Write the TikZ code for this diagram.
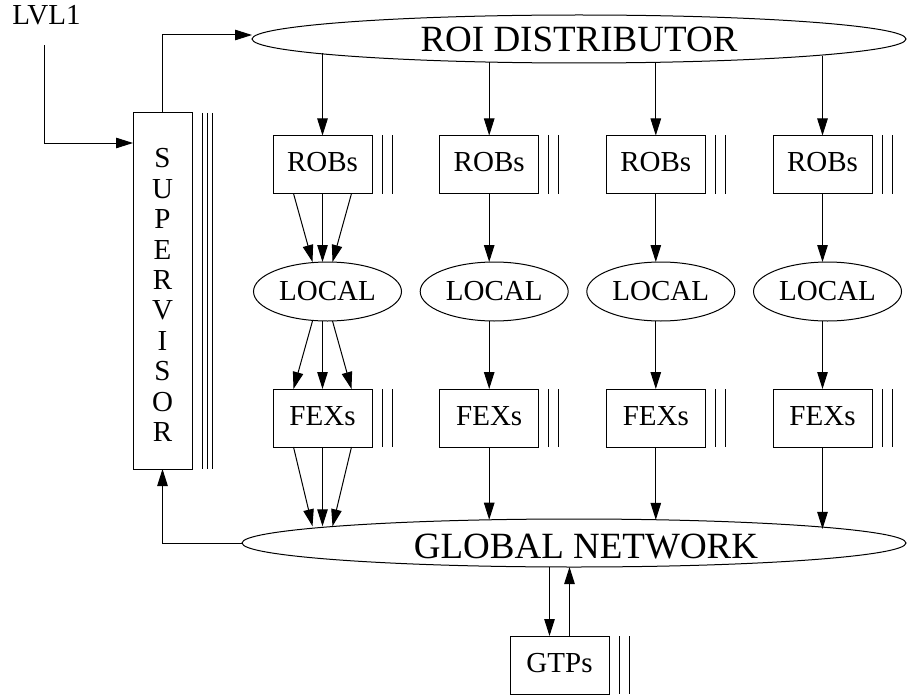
\documentclass[tikz,border=0pt]{standalone}
\usepackage{fontspec}
\setmainfont{Liberation Serif}
\usetikzlibrary{arrows.meta,shapes.geometric}
\begin{document}
\begin{tikzpicture}[x=1pt,y=-1pt,
  every node/.style={inner sep=0pt, outer sep=0pt},
  lbl/.style={font=\fontsize{29}{30.4}\selectfont},
  bigfont/.style={font=\fontsize{37}{40}\selectfont},
  boxunit/.style={draw, line width=1pt, rectangle, minimum width=99pt,
    minimum height=58pt, lbl, text height=19pt, text depth=5pt},
  hubell/.style={draw, line width=1pt, ellipse},
  arrowln/.style={line width=1pt, -{Triangle[length=17pt,width=10.5pt]}},
  barln/.style={line width=1pt},
]
\useasboundingbox (0,0) rectangle (907,698);

% trigger input and supervisor
\node[lbl, anchor=base] (lvl) at (46.5,25) {LVL1};
\node[draw, line width=1pt, minimum width=59pt, minimum height=356pt] (sup) at (162.5,291) {};
\node[lbl, align=center] (suptxt) at (162.5,295) {S\\U\\P\\E\\R\\V\\I\\S\\O\\R};
\foreach \d in {10,15,20}
  \draw[barln] ([xshift=\d pt]sup.north east) -- ([xshift=\d pt]sup.south east);

% distribution and collection networks
\node[hubell, bigfont, minimum width=654pt, minimum height=48pt] (roi) at (579,39) {ROI DISTRIBUTOR};
\node[hubell, minimum width=664pt, minimum height=48pt] (glob) at (574,543) {};
\node[bigfont, anchor=base] (globtxt) at (586,558) {GLOBAL NETWORK};

% processing columns
\foreach \i/\x in {1/322.5,2/489.2,3/655.8,4/822.5} {
  \node[boxunit] (rob\i) at (\x,164.5) {ROBs};
  \node[hubell, lbl, minimum width=148pt, minimum height=59pt] (loc\i) at (\x+5,291.5) {LOCAL};
  \node[boxunit] (fex\i) at (\x,418) {FEXs};
}
\node[boxunit] (gtp) at (559.5,665) {GTPs};

% multiplicity bars beside each unit
\foreach \n in {rob1,rob2,rob3,rob4,fex1,fex2,fex3,fex4,gtp}
  \foreach \d in {10,20}
    \draw[barln] ([xshift=\d pt]\n.north east) -- ([xshift=\d pt]\n.south east);

% supervisor connections
\draw[arrowln] ([xshift=-2.5pt,yshift=-20pt]lvl.south) |- ([yshift=-30pt]sup.north west);
\draw[arrowln] (sup.north) |- ([yshift=4pt]roi.west);
\draw[arrowln] (glob.west) -| (sup.south);

% ROI distributor to ROBs
\foreach \i/\a in {1/183.32,2/194.41,3/343.10,4/356.24}
  \draw[arrowln] (rob\i.north |- roi.\a) -- (rob\i.north);

% first column: fanned links
\foreach \s/\e in {-29/-10,0/0,29/10} {
  \draw[arrowln] ([xshift=\s pt]rob1.south) -- ([xshift=\e pt]rob1.south |- loc1.north);
  \draw[arrowln] ([xshift=\e pt]fex1.north |- loc1.south) -- ([xshift=\s pt]fex1.north);
  \draw[arrowln] ([xshift=\s pt]fex1.south) -- ([xshift=\e pt]fex1.south |- glob.176.47);
}

% other columns: single links
\foreach \i/\a in {2/164.70,3/15.87,4/3.666} {
  \draw[arrowln] (rob\i.south) -- (rob\i.south |- loc\i.north);
  \draw[arrowln] (fex\i.north |- loc\i.south) -- (fex\i.north);
  \draw[arrowln] (fex\i.south) -- (fex\i.south |- glob.\a);
}

% global network and GTPs
\draw[arrowln] ([xshift=-10pt]gtp.north |- glob.south) -- ([xshift=-10pt]gtp.north);
\draw[arrowln] ([xshift=10pt]gtp.north) -- ([xshift=10pt]gtp.north |- glob.south);
\end{tikzpicture}
\end{document}
